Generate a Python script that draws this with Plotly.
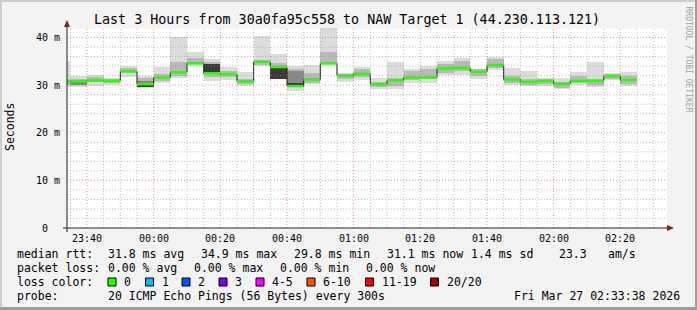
import pandas as pd
import plotly.graph_objects as go

# ---------------- data ----------------
bin_start = pd.date_range("2026-03-26 23:30", periods=35, freq="5min")
median_ms = [30.8, 30.8, 31.0, 30.9, 32.9, 30.2, 31.6, 32.7, 34.6, 32.5, 32.3, 30.8, 34.9, 33.8,
             29.8, 31.2, 34.6, 32.0, 32.4, 30.2, 31.0, 31.6, 31.6, 33.5, 33.6, 32.8, 34.2, 31.2,
             30.7, 30.9, 30.3, 30.9, 30.9, 31.9, 31.1]
smoke_min = [29.7, 29.7, 29.9, 30.1, 31.8, 29.5, 30.5, 31.5, 34.0, 30.9, 31.1, 29.9, 34.0, 31.3,
             28.8, 30.2, 34.1, 30.6, 31.1, 29.2, 29.1, 30.5, 30.5, 32.2, 32.2, 31.2, 33.2, 30.1,
             29.75, 29.8, 29.2, 30.1, 29.7, 31.0, 29.9]
smoke_max = [35.1, 32.0, 32.2, 31.5, 34.1, 32.0, 33.8, 40.1, 36.9, 35.4, 33.8, 32.7, 40.3, 36.5,
             34.1, 34.3, 44.5, 32.6, 33.8, 31.5, 34.8, 33.4, 34.1, 35.0, 35.6, 33.4, 35.9, 33.5,
             32.9, 31.5, 31.5, 32.7, 34.8, 32.6, 32.7]
smoke_q_lo = [30.1, 30.1, 30.65, 30.5, 32.6, 29.8, 30.85, 31.9, 34.35, 31.8, 31.75, 30.15, 34.3, 31.3,
              29.6, 30.5, 34.7, 31.2, 31.75, 29.6, 29.8, 31.05, 31.2, 32.6, 32.95, 31.9, 33.65, 30.5,
              30.0, 30.15, 29.45, 30.35, 29.95, 31.2, 30.15]
smoke_q_hi = [31.3, 31.3, 31.8, 31.2, 33.65, 31.5, 32.25, 34.8, 35.75, 34.8, 33.0, 31.35, 35.3, 34.7,
              33.3, 32.6, 36.9, 32.25, 33.45, 30.65, 31.55, 32.95, 33.3, 34.35, 35.05, 33.3, 35.4, 31.9,
              31.35, 31.2, 30.65, 31.9, 31.35, 32.4, 31.9]
N = None
smoke_mid_lo = [N, 30.0, N, N, N, 29.6, N, N, N, N, N, N, N, N, 29.6, N, N, N, N, N, N, N, N, N, N, N, N, N, N, N, N, N, N, N, N]
smoke_mid_hi = [N, 30.9, N, N, N, 30.8, N, N, N, N, N, N, N, N, 33.0, N, N, N, N, N, N, N, N, N, N, N, N, N, N, N, N, N, N, N, N]
smoke_dark_lo = [N, N, N, N, N, 29.7, N, N, N, 32.25, N, N, N, 31.3, 29.7, N, N, N, N, N, N, N, N, N, N, N, N, N, N, N, N, N, N, N, N]
smoke_dark_hi = [N, N, N, N, N, 30.2, N, N, N, 34.5, N, N, N, 33.7, 30.4, N, N, N, N, N, N, N, N, N, N, N, N, N, N, N, N, N, N, N, N]

x_tick_labels = ["23:40", "00:00", "00:20", "00:40", "01:00", "01:20", "01:40", "02:00", "02:20"]
x_tick_times = pd.date_range("2026-03-26 23:40", periods=9, freq="20min")
y_tick_values = [0, 10, 20, 30, 40]
y_tick_labels = ["0\u00a0\u00a0", "10 m", "20 m", "30 m", "40 m"]

title_text = "Last 3 Hours from 30a0fa95c558 to NAW Target 1 (44.230.113.121)"
loss_labels = ["0", "1", "2", "3", "4-5", "6-10", "11-19", "20/20"]
loss_colors = ["#26ff00", "#00b8ff", "#0059ff", "#7e00ff", "#ff00ff", "#ff5500", "#ff0000", "#a10000"]

# ---------------- geometry helpers (pixel -> paper) ----------------
W, H = 697, 310
L, R, T, B = 67, 30, 28, 82
PW, PH = W - L - R, H - T - B


def px(X):
    return (X - L) / PW


def py(Y):
    return (H - B - Y) / PH


MONO = "DejaVu Sans Mono"
step = pd.Timedelta(minutes=5)
centers = [t + step / 2 for t in bin_start]


def band(lo, hi, color):
    xs, base, h = [], [], []
    for c, a, b in zip(centers, lo, hi):
        if a is None or b is None:
            continue
        xs.append(c)
        base.append(a)
        h.append(b - a)
    return go.Bar(x=xs, y=h, base=base, width=300000, marker=dict(color=color, line=dict(width=0)),
                  hoverinfo="skip", showlegend=False)


fig = go.Figure()
fig.add_trace(band(smoke_min, smoke_max, "#dcdcdc"))
fig.add_trace(band(smoke_q_lo, smoke_q_hi, "#b9b9b9"))
fig.add_trace(band(smoke_mid_lo, smoke_mid_hi, "#888888"))
fig.add_trace(band(smoke_dark_lo, smoke_dark_hi, "#3a3a3a"))

# black step line of median (gives vertical connectors)
fig.add_trace(go.Scatter(x=list(bin_start) + [bin_start[-1] + step], y=median_ms + [median_ms[-1]],
                         mode="lines", line=dict(color="#111111", width=1, shape="hv"),
                         hoverinfo="skip", showlegend=False))
# green median segments
gx, gy = [], []
for t, m in zip(bin_start, median_ms):
    gx += [t, t + step, None]
    gy += [m, m, None]
fig.add_trace(go.Scatter(x=gx, y=gy, mode="lines", line=dict(color=loss_colors[0], width=2.5),
                         hoverinfo="skip", showlegend=False))

shapes = []
# grid (on top, dotted like rrdtool)
for t in pd.date_range("2026-03-26 23:35", "2026-03-27 02:30", freq="5min"):
    major = (t.minute % 20 == 0)
    shapes.append(dict(type="line", xref="x", yref="paper", x0=t, x1=t, y0=0, y1=1, layer="above",
                       line=dict(color="rgba(222,79,79,0.6)" if major else "rgba(150,150,150,0.6)",
                                 width=1, dash="1px,2px")))
for v in range(2, 43, 2):
    major = (v % 10 == 0)
    shapes.append(dict(type="line", xref="paper", yref="y", x0=0, x1=1, y0=v, y1=v, layer="above",
                       line=dict(color="rgba(222,79,79,0.6)" if major else "rgba(150,150,150,0.6)",
                                 width=1, dash="1px,2px")))

# axes + arrows
AX = "#1f1f1f"
shapes.append(dict(type="line", xref="paper", yref="paper", x0=px(67), x1=px(67), y0=py(232), y1=py(24),
                   line=dict(color=AX, width=1), layer="above"))
shapes.append(dict(type="line", xref="paper", yref="paper", x0=px(63), x1=px(670), y0=py(228), y1=py(228),
                   line=dict(color=AX, width=1), layer="above"))
shapes.append(dict(type="path", xref="paper", yref="paper",
                   path=f"M {px(64)} {py(27)} L {px(67)} {py(20)} L {px(70)} {py(27)} Z",
                   fillcolor="#7f1f1f", line=dict(width=0), layer="above"))
shapes.append(dict(type="path", xref="paper", yref="paper",
                   path=f"M {px(667)} {py(225)} L {px(674)} {py(228)} L {px(667)} {py(231)} Z",
                   fillcolor="#7f1f1f", line=dict(width=0), layer="above"))

# frame shading
shapes.append(dict(type="rect", xref="paper", yref="paper", x0=px(0), x1=px(W), y0=py(0), y1=py(2),
                   fillcolor="#cfcfcf", line=dict(width=0), layer="below"))
shapes.append(dict(type="rect", xref="paper", yref="paper", x0=px(0), x1=px(2), y0=py(0), y1=py(H),
                   fillcolor="#cfcfcf", line=dict(width=0), layer="below"))
shapes.append(dict(type="rect", xref="paper", yref="paper", x0=px(0), x1=px(W), y0=py(H - 3), y1=py(H),
                   fillcolor="#9e9e9e", line=dict(width=0), layer="below"))
shapes.append(dict(type="rect", xref="paper", yref="paper", x0=px(W - 2), x1=px(W), y0=py(0), y1=py(H),
                   fillcolor="#9e9e9e", line=dict(width=0), layer="below"))

annotations = []


def txt(X, Y, s, size=11.5, anchor="left", color="#000000", angle=0):
    annotations.append(dict(x=px(X), y=py(Y), xref="paper", yref="paper", text=s, showarrow=False,
                            xanchor=anchor, yanchor="middle", textangle=angle, borderpad=0,
                            font=dict(family=MONO, size=size, color=color)))


txt(347, 19, title_text, size=13.35, anchor="center")
txt(688.5, 59, "RRDTOOL / TOBI OETIKER", size=8, anchor="center", color="#a0a0a0", angle=90)
txt(10, 127, "Seconds", size=11.5, anchor="center", angle=-90)

for v, s in zip(y_tick_values, y_tick_labels):
    annotations.append(dict(x=px(61), y=v, xref="paper", yref="y", text=s, showarrow=False,
                            xanchor="right", yanchor="middle", borderpad=0,
                            font=dict(family=MONO, size=10, color="#000000")))
for t, s in zip(x_tick_times, x_tick_labels):
    annotations.append(dict(x=t, y=py(238), xref="x", yref="paper", text=s, showarrow=False,
                            xanchor="center", yanchor="middle", borderpad=0,
                            font=dict(family=MONO, size=10, color="#000000")))

# legend lines
row1 = [(16, "median rtt:"), (107, "31.8 ms avg"), (200, "34.9 ms max"), (293, "29.8 ms min"),
        (386, "31.1 ms now"), (470, "1.4 ms sd"), (558, "23.3"), (607, "am/s")]
row2 = [(16, "packet loss:"), (107, "0.00 % avg"), (193, "0.00 % max"), (279, "0.00 % min"),
        (365, "0.00 % now")]
row4 = [(16, "probe:"), (107, "20 ICMP Echo Pings (56 Bytes) every 300s"), (513, "Fri Mar 27 02:33:38 2026")]
for X, s in row1:
    txt(X, 254, s)
for X, s in row2:
    txt(X, 268, s)
txt(16, 282, "loss color:")
sq_x = [108, 145.5, 182, 219, 256, 307, 365.5, 430.5]
for X, lab, col in zip(sq_x, loss_labels, loss_colors):
    shapes.append(dict(type="rect", xref="paper", yref="paper", x0=px(X), x1=px(X + 8), y0=py(278), y1=py(286),
                       fillcolor=col, line=dict(color="#000000", width=1), layer="above"))
    txt(X + 15, 282, lab)
for X, s in row4:
    txt(X, 296, s)

fig.update_layout(
    width=W, height=H, autosize=False,
    margin=dict(l=L, r=R, t=T, b=B, pad=0),
    paper_bgcolor="#f3f3f3", plot_bgcolor="#ffffff",
    barmode="overlay", bargap=0, showlegend=False,
    shapes=shapes, annotations=annotations,
    xaxis=dict(type="date", range=["2026-03-26 23:34", "2026-03-27 02:34"], showgrid=False,
               zeroline=False, showticklabels=False, showline=False, ticks="", fixedrange=True),
    yaxis=dict(range=[0, 42], showgrid=False, zeroline=False, showticklabels=False, showline=False,
               ticks="", fixedrange=True),
)

fig.write_html("out.html")
